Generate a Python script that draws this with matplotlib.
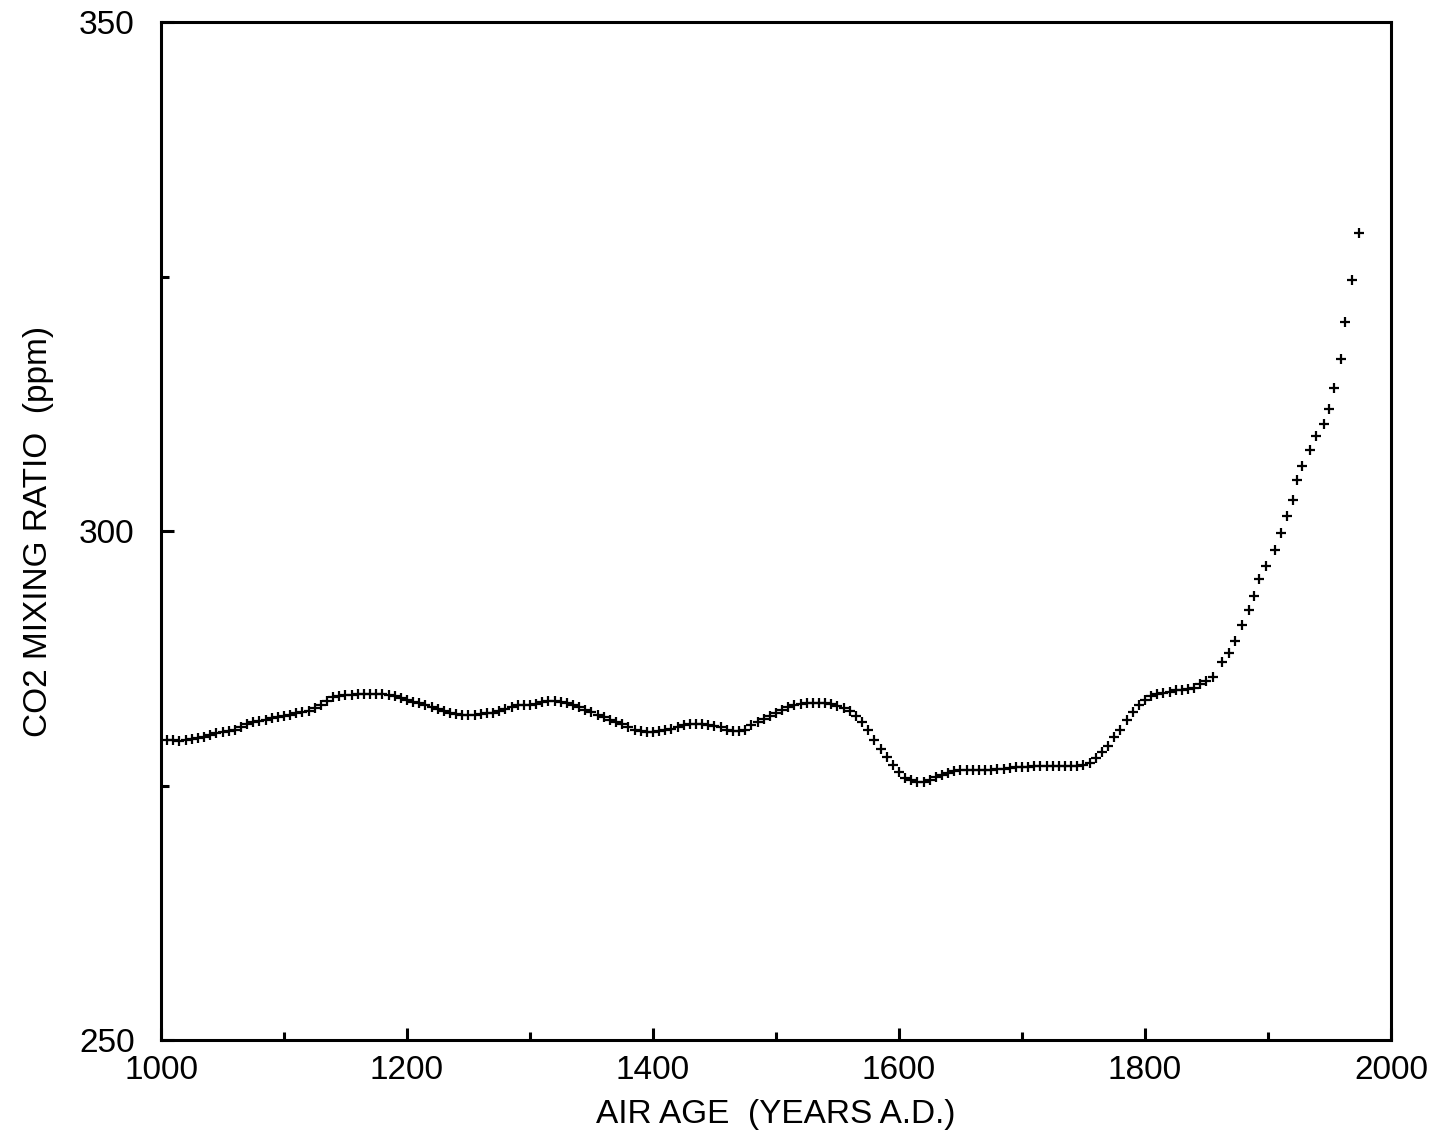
import matplotlib
matplotlib.use("Agg")
import matplotlib.pyplot as plt
from matplotlib.ticker import MultipleLocator

plt.rcParams['font.family'] = ['Liberation Sans', 'DejaVu Sans']

# smoothed ice core record, one value every 5 years from 1005 to 1855
smooth_years = list(range(1005, 1860, 5))
smooth_ppm = [
    279.5, 279.5, 279.4, 279.5, 279.6, 279.7, 279.8, 280.0, 280.2, 280.3,
    280.4, 280.5, 280.7, 281.0, 281.2, 281.3, 281.4, 281.6, 281.7, 281.8,
    281.9, 282.1, 282.2, 282.3, 282.6, 282.9, 283.3, 283.7, 283.8, 283.9,
    283.9, 284.0, 284.0, 284.0, 284.0, 284.0, 283.9, 283.8, 283.6, 283.4,
    283.2, 283.1, 282.9, 282.7, 282.5, 282.3, 282.1, 282.0, 281.9, 281.9,
    281.9, 282.0, 282.1, 282.1, 282.3, 282.5, 282.7, 282.9, 282.9, 282.9,
    283.0, 283.2, 283.3, 283.3, 283.2, 283.1, 282.9, 282.7, 282.4, 282.2,
    281.9, 281.7, 281.4, 281.2, 281.0, 280.7, 280.5, 280.4, 280.3, 280.3,
    280.4, 280.5, 280.6, 280.7, 280.9, 281.0, 281.0, 281.0, 280.9, 280.8,
    280.7, 280.5, 280.4, 280.4, 280.5, 280.9, 281.2, 281.5, 281.8, 282.1,
    282.4, 282.7, 282.9, 283.0, 283.1, 283.1, 283.1, 283.1, 283.0, 282.8,
    282.6, 282.3, 281.8, 281.2, 280.5, 279.5, 278.6, 277.8, 277.0, 276.3,
    275.7, 275.5, 275.3, 275.3, 275.5, 275.8, 276.0, 276.2, 276.4, 276.5,
    276.5, 276.5, 276.5, 276.5, 276.5, 276.6, 276.6, 276.7, 276.8, 276.8,
    276.8, 276.9, 276.9, 276.9, 276.9, 276.9, 276.9, 276.9, 276.9, 277.0,
    277.2, 277.7, 278.3, 278.9, 279.8, 280.5, 281.4, 282.2, 282.9, 283.4,
    283.8, 284.0, 284.1, 284.2, 284.4, 284.4, 284.5, 284.6, 285.0, 285.3,
    285.7,
]

# recent part, uneven spacing
recent_years = [1862.5, 1868.5, 1873.5, 1879, 1884.5, 1888.5, 1893, 1898.5,
                1906, 1910.5, 1915.5, 1920, 1924, 1928, 1934, 1939, 1945.5,
                1949.5, 1954, 1959, 1963, 1968.5, 1974]
recent_ppm = [287.1, 288.0, 289.2, 290.8, 292.2, 293.6, 295.3, 296.6,
              298.1, 299.8, 301.5, 303.0, 305.0, 306.4, 308.0, 309.3, 310.5,
              312.0, 314.0, 316.9, 320.5, 324.7, 329.3]

fig = plt.figure(figsize=(14.35, 11.4), dpi=100)
ax = fig.add_axes([0.1122, 0.0877, 0.8571, 0.8930])

ax.plot(smooth_years, smooth_ppm, linestyle='none', marker='+',
        color='black', markersize=7, markeredgewidth=1.6)
ax.plot(recent_years, recent_ppm, linestyle='none', marker='+',
        color='black', markersize=7, markeredgewidth=1.6)

ax.set_xlim(1000, 2000)
ax.set_ylim(250, 350)
ax.set_xticks([1000, 1200, 1400, 1600, 1800, 2000])
ax.set_yticks([250, 300, 350])
ax.xaxis.set_minor_locator(MultipleLocator(100))
ax.yaxis.set_minor_locator(MultipleLocator(25))

for s in ax.spines.values():
    s.set_linewidth(2.2)

ax.tick_params(which='both', direction='in', width=2.2, labelsize=24,
               top=False, right=False)
ax.tick_params(which='major', length=9)
ax.tick_params(which='minor', length=5.5)
ax.tick_params(axis='x', pad=11)
ax.tick_params(axis='y', pad=19)

ax.set_xlabel('AIR AGE  (YEARS A.D.)', fontsize=24, labelpad=9)
ax.set_ylabel('CO2 MIXING RATIO  (ppm)', fontsize=24, labelpad=18)

fig.savefig('out.png', dpi=100)
